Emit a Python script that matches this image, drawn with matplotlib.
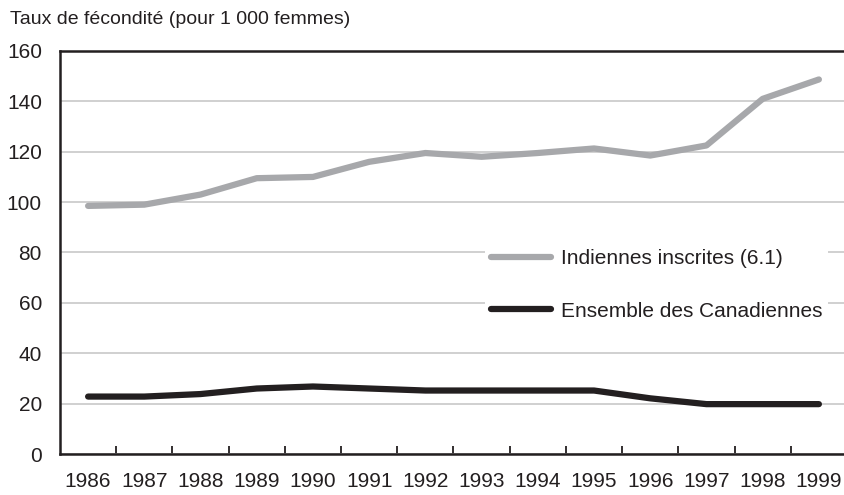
import matplotlib
matplotlib.use('Agg')
import matplotlib.pyplot as plt
import numpy as np

plt.rcParams['font.family'] = ['Liberation Sans', 'DejaVu Sans']

years = ['1986', '1987', '1988', '1989', '1990', '1991', '1992',
         '1993', '1994', '1995', '1996', '1997', '1998', '1999']
indiennes = [98.5, 99, 103, 109.5, 110, 116, 119.5,
             118, 119.5, 121.3, 118.5, 122.5, 141, 148.7]
canadiennes = [22.8, 22.8, 23.8, 26, 26.8, 26, 25.2,
               25.2, 25.2, 25.2, 22.1, 19.8, 19.8, 19.8]
yticks = [0, 20, 40, 60, 80, 100, 120, 140, 160]

gray = '#a7a8ab'
black = '#231f20'

fig = plt.figure(figsize=(8.45, 4.95), dpi=100)
ax = fig.add_axes([60 / 845, 41 / 495, 787 / 845, 403 / 495])

x = np.arange(len(years))
ax.plot(x, indiennes, color=gray, lw=4.5, solid_capstyle='round',
        solid_joinstyle='round', label='Indiennes inscrites (6.1)', zorder=3)
ax.plot(x, canadiennes, color=black, lw=4.5, solid_capstyle='round',
        solid_joinstyle='round', label='Ensemble des Canadiennes', zorder=3)

ax.set_xlim(-0.5, len(years) - 0.5)
ax.set_ylim(0, 160)
ax.set_yticks(yticks)
ax.yaxis.grid(True, color='#c8c8c8', lw=1.2)
ax.set_axisbelow(True)

ax.set_xticks(x)
ax.set_xticklabels(years)
ax.set_xticks(np.arange(0.5, len(years) - 1, 1), minor=True)
ax.tick_params(axis='x', which='major', length=0, pad=13, labelsize=15, colors=black)
ax.tick_params(axis='x', which='minor', direction='in', length=6, width=1.3, color=black)
ax.tick_params(axis='y', length=0, pad=13, labelsize=15, colors=black)

for s in ['left', 'bottom', 'top']:
    ax.spines[s].set_color(black)
    ax.spines[s].set_linewidth(1.8)
ax.spines['right'].set_visible(False)

leg = ax.legend(loc='center left', bbox_to_anchor=(0.54, 0.42), borderaxespad=0,
                frameon=True, facecolor='white', edgecolor='none', framealpha=1,
                fontsize=15, handlelength=2.85, handletextpad=0.48,
                labelspacing=1.62, borderpad=0.3)
leg.get_frame().set_boxstyle('square', pad=0)
for t in leg.get_texts():
    t.set_color(black)

fig.text(10 / 845, 1 - 20 / 495, 'Taux de fécondité (pour 1 000 femmes)',
         fontsize=14, color=black, va='center', ha='left')

fig.savefig('out.png', dpi=100)
